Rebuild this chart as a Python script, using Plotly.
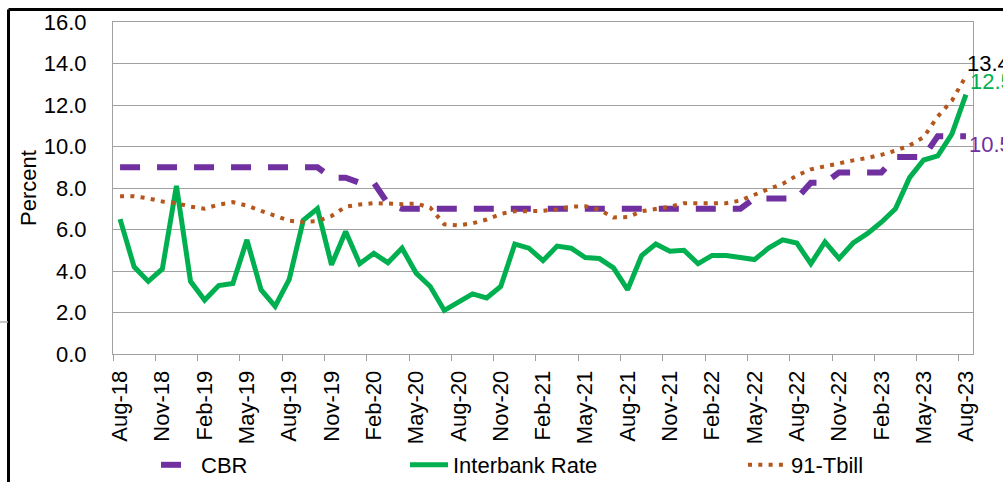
import pandas as pd
import plotly.graph_objects as go

# Monthly observations, Aug-2018 .. Aug-2023
months = pd.date_range("2018-08-01", periods=61, freq="MS").strftime("%b-%y").tolist()

cbr = [9.0] * 15 + [8.5, 8.5, 8.25, 8.25, 7.25] + [7.0] * 25 + \
      [7.5, 7.5, 7.5, 7.5, 8.25, 8.25, 8.75, 8.75, 8.75, 8.75, 9.5, 9.5, 9.5, 10.5, 10.5, 10.5]

interbank = [6.5, 4.2, 3.5, 4.1, 8.1, 3.5, 2.6, 3.3, 3.4, 5.5,
             3.1, 2.3, 3.6, 6.45, 7.0, 4.3, 5.9, 4.35, 4.85, 4.4,
             5.1, 3.9, 3.25, 2.1, 2.5, 2.9, 2.7, 3.25, 5.3, 5.1,
             4.5, 5.2, 5.1, 4.65, 4.6, 4.15, 3.1, 4.75, 5.3, 4.95,
             5.0, 4.35, 4.75, 4.75, 4.65, 4.55, 5.1, 5.5, 5.35, 4.35,
             5.4, 4.6, 5.35, 5.8, 6.35, 7.0, 8.5, 9.35, 9.55, 10.6,
             12.5]

tbill = [7.6, 7.6, 7.5, 7.35, 7.27, 7.1, 7.0, 7.2, 7.32, 7.15,
         6.9, 6.65, 6.42, 6.36, 6.4, 6.65, 7.1, 7.2, 7.27, 7.25,
         7.22, 7.25, 7.05, 6.25, 6.2, 6.3, 6.48, 6.75, 6.88, 6.88,
         6.9, 6.97, 7.1, 7.12, 6.95, 6.58, 6.6, 6.88, 6.97, 7.1,
         7.27, 7.28, 7.25, 7.27, 7.4, 7.7, 7.95, 8.2, 8.6, 8.9,
         9.05, 9.17, 9.33, 9.45, 9.6, 9.8, 10.05, 10.45, 11.45, 12.2,
         13.4]

y_ticks = [0, 2, 4, 6, 8, 10, 12, 14, 16]

PURPLE = "#7030A0"
GREEN = "#00B050"
BROWN = "#B5561C"
FONT = "Liberation Sans, Arial, sans-serif"
FS = 22

fig = go.Figure()
fig.add_trace(go.Scatter(x=months, y=cbr, name="CBR", mode="lines",
                         line=dict(color=PURPLE, width=6, dash="20px,17px"),
                         legend="legend"))
fig.add_trace(go.Scatter(x=months, y=interbank, name="Interbank Rate", mode="lines",
                         line=dict(color=GREEN, width=5), legend="legend2"))
fig.add_trace(go.Scatter(x=months, y=tbill, name="91-Tbill", mode="lines",
                         line=dict(color=BROWN, width=4, dash="4px,6.3px"),
                         legend="legend3"))

# end-of-series value labels
fig.add_annotation(x=months[-1], y=tbill[-1], text=f"{tbill[-1]:.1f}", showarrow=False,
                   xanchor="left", yanchor="middle", xshift=-1, yshift=12,
                   font=dict(family=FONT, size=FS, color="#000000"))
fig.add_annotation(x=months[-1], y=interbank[-1], text=f"{interbank[-1]:.1f}", showarrow=False,
                   xanchor="left", yanchor="middle", xshift=2, yshift=13,
                   font=dict(family=FONT, size=FS, color=GREEN))
fig.add_annotation(x=months[-1], y=cbr[-1], text=f"{cbr[-1]:.1f}", showarrow=False,
                   xanchor="left", yanchor="middle", xshift=1, yshift=-8,
                   font=dict(family=FONT, size=FS, color=PURPLE))

L, R, T, B = 113, 30, 22, 128
W, H = 1003, 482
pw, ph = W - L - R, H - T - B


def px(x):
    return (x - L) / pw


def py(y):
    return (H - B - y) / ph


# outer frame (top and left edges)
fig.add_shape(type="line", xref="paper", yref="paper", x0=px(8.5), x1=px(1004),
              y0=py(9.5), y1=py(9.5), line=dict(color="#000000", width=3))
fig.add_shape(type="line", xref="paper", yref="paper", x0=px(8.5), x1=px(8.5),
              y0=py(9.5), y1=py(483), line=dict(color="#000000", width=3))
fig.add_shape(type="line", xref="paper", yref="paper", x0=px(0), x1=px(8),
              y0=py(322), y1=py(322), line=dict(color="#B0B0B0", width=1.5))

legend_common = dict(orientation="h", xref="container", yref="container",
                     yanchor="middle", xanchor="left", bgcolor="rgba(0,0,0,0)",
                     font=dict(family=FONT, size=FS, color="#000000"))
LEG_Y = 1 - 465 / H

fig.update_layout(
    width=W, height=H,
    margin=dict(l=L, r=R, t=T, b=B, pad=0, autoexpand=False),
    paper_bgcolor="#FFFFFF", plot_bgcolor="#FFFFFF",
    font=dict(family=FONT, size=FS, color="#000000"),
    legend=dict(**legend_common, x=156 / W, y=LEG_Y, itemwidth=35),
    legend2=dict(**legend_common, x=405 / W, y=LEG_Y, itemwidth=38),
    legend3=dict(**legend_common, x=743 / W, y=LEG_Y, itemwidth=38),
    xaxis=dict(type="category", categoryorder="array", categoryarray=months,
               range=[-0.5, len(months) - 0.5], dtick=3, tickson="boundaries",
               tickangle=-90, ticks="outside", ticklen=6, tickcolor="#A0A0A0",
               showgrid=False, showline=True, linecolor="#A0A0A0", linewidth=1,
               mirror=True, automargin=False,
               tickfont=dict(family=FONT, size=FS, color="#000000"),
               ticklabelstandoff=7),
    yaxis=dict(range=[0, 16], tickvals=y_ticks, tickformat=".1f",
               showgrid=True, gridcolor="#A0A0A0", gridwidth=1,
               showline=True, linecolor="#A0A0A0", linewidth=1, mirror=True,
               ticks="", zeroline=False, ticklabelstandoff=21, automargin=False,
               tickfont=dict(family=FONT, size=FS, color="#000000"),
               title=dict(text="Percent", standoff=1,
                          font=dict(family=FONT, size=FS, color="#000000"))),
    showlegend=True,
)

fig.write_html("out.html")
